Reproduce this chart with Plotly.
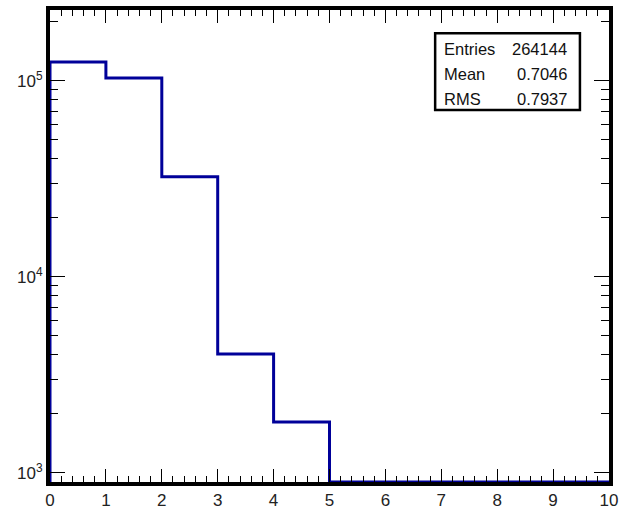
import numpy as np
import plotly.graph_objects as go

# Histogram data (integer bins 0..10)
bin_edges = [0, 1, 2, 3, 4, 5, 6, 7, 8, 9, 10]
counts = [125000, 103600, 32500, 4050, 1820, 0, 0, 0, 0, 0]
stats_labels = ["Entries", "Mean", "RMS"]
stats_values = ["264144", "0.7046", "0.7937"]

y_min, y_max = 10 ** 2.954, 10 ** 5.362

# Build step outline (zero bins are drawn at the axis floor, as ROOT does on log scale)
floor = y_min
xs, ys = [bin_edges[0]], [floor]
for i, c in enumerate(counts):
    v = c if c > 0 else floor
    xs += [bin_edges[i], bin_edges[i + 1]]
    ys += [v, v]
xs.append(bin_edges[-1]); ys.append(floor)

fig = go.Figure()
fig.add_trace(go.Scatter(x=xs, y=ys, mode="lines",
                         line=dict(color="#000099", width=3),
                         hoverinfo="skip", showlegend=False, cliponaxis=False))

tfont = dict(family="Liberation Sans, Arial, sans-serif", size=17, color="#222222")
fig.update_layout(
    width=619, height=509,
    margin=dict(l=50, r=10, t=10, b=27),
    paper_bgcolor="white", plot_bgcolor="white",
    font=tfont,
    xaxis=dict(range=[0, 10], dtick=1, tick0=0, ticks="inside", ticklen=13,
               tickwidth=1, tickcolor="black", showgrid=False, zeroline=False,
               showline=True, linewidth=4, linecolor="black", mirror="allticks",
               automargin=False,
               minor=dict(ticks="inside", ticklen=6, dtick=0.2, tickcolor="black", showgrid=False),
               tickfont=tfont),
    yaxis=dict(type="log", range=[np.log10(y_min), np.log10(y_max)],
               tickvals=[1e3, 1e4, 1e5],
               ticktext=["10<sup>3</sup>", "10<sup>4</sup>", "10<sup>5</sup>"],
               ticks="inside", ticklen=15, tickwidth=1, tickcolor="black",
               showgrid=False, zeroline=False, showline=True, linewidth=4,
               linecolor="black", mirror="allticks", automargin=False,
               minor=dict(ticks="inside", ticklen=8, tickcolor="black", showgrid=False,
                          tickvals=[k * 10 ** e for e in range(2, 6) for k in range(2, 10)]),
               tickfont=tfont),
)

# Stats box
box_x0, box_x1, box_y0, box_y1 = 0.689, 0.948, 0.788, 0.951
fig.add_shape(type="rect", xref="paper", yref="paper", x0=box_x0, x1=box_x1,
              y0=box_y0, y1=box_y1, line=dict(color="black", width=2.5), fillcolor="white")
row_y = [0.917, 0.864, 0.811]
sfont = dict(family="Liberation Sans, Arial, sans-serif", size=16.5, color="#111111")
for yy, lab, val in zip(row_y, stats_labels, stats_values):
    fig.add_annotation(x=0.701, y=yy, xref="paper", yref="paper", text=lab,
                       showarrow=False, xanchor="left", yanchor="middle", font=sfont)
    fig.add_annotation(x=0.928, y=yy, xref="paper", yref="paper", text=val,
                       showarrow=False, xanchor="right", yanchor="middle", font=sfont)

fig.write_html("out.html")
